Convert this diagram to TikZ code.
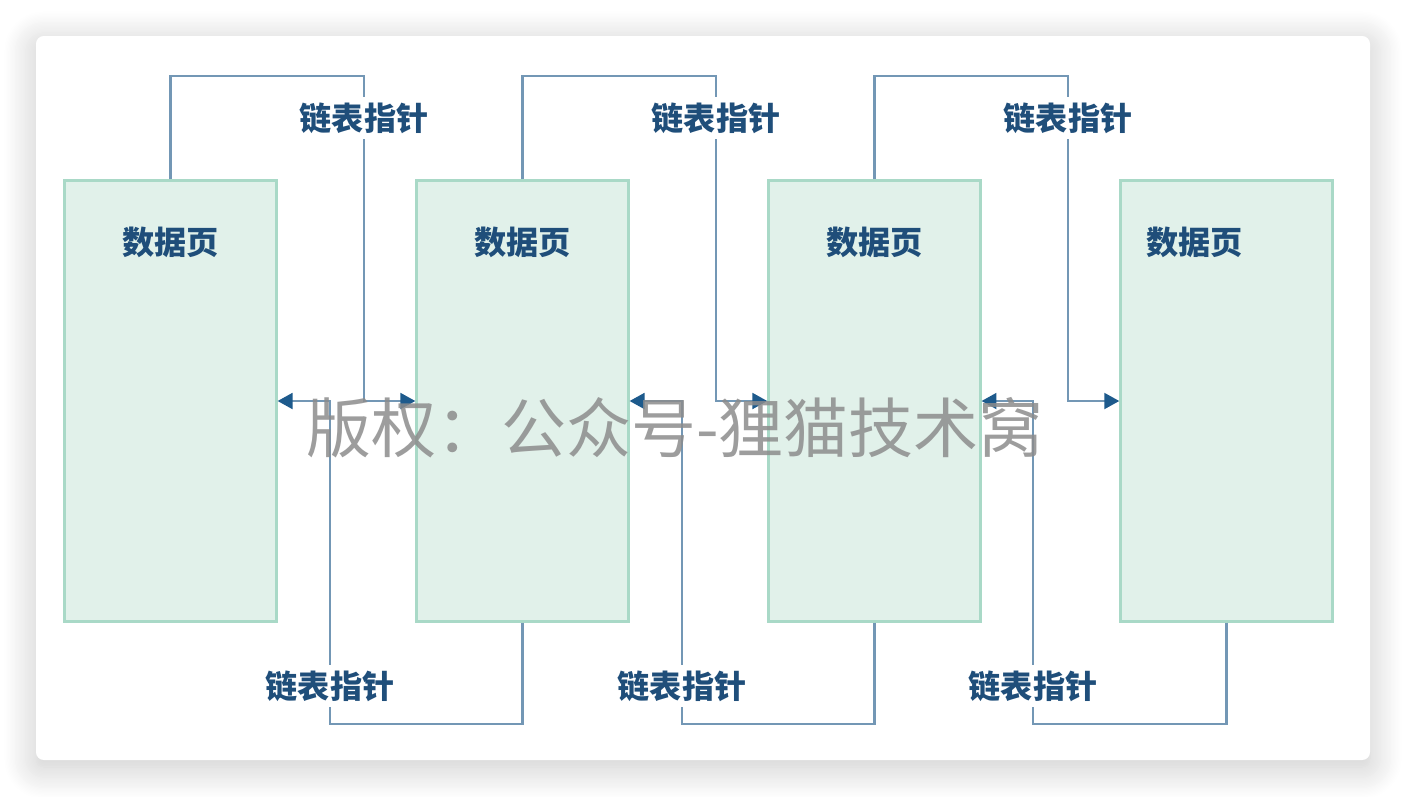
\documentclass[tikz,border=0pt]{standalone}
\usepackage{fontspec}
\newfontfamily\cjk{Noto Sans CJK SC}
\usetikzlibrary{arrows.meta, shadows.blur, positioning}
\definecolor{pagefill}{HTML}{E1F1EA}
\definecolor{pageline}{HTML}{A9D9C7}
\definecolor{linkline}{HTML}{7397B5}
\definecolor{labeltext}{HTML}{1F4E7A}
\definecolor{tipfill}{HTML}{1D5A8C}
\tikzset{
    page/.style={draw=pageline, fill=pagefill, line width=1.3pt, minimum width=4.24cm, minimum height=8.82cm, inner sep=0pt},
    title/.style={font=\cjk\bfseries\fontsize{18.3}{20}\selectfont, text=labeltext, inner sep=1pt},
    ptr/.style={title, fill=white, inner sep=3pt},
    link/.style={draw=linkline, line width=1.4pt},
    tip/.style={-{Triangle[color=tipfill, length=8.5pt, width=9pt]}},
    watermark/.style={font=\cjk\fontsize{37}{40}\selectfont, text=black!45, text opacity=0.85}
}

\begin{document}
\begin{tikzpicture}[x=0.02cm, y=-0.02cm]
        \useasboundingbox (0, 0) rectangle (1406, 796);
        \fill[white, rounded corners=4.5pt, blur shadow={shadow xshift=0pt, shadow yshift=-4pt, shadow blur radius=18pt, shadow blur steps=25, shadow opacity=22}] (36, 36) rectangle (1370, 760);
        % data pages
        \node[page] (box1) at (170.5, 401) {};
        \node[page, right=2.755cm of box1] (box2) {};
        \node[page, right=2.755cm of box2] (box3) {};
        \node[page, right=2.755cm of box3] (box4) {};
        \node[title] (title1) at ([yshift=-1.26cm]box1.north) {数据页};
        \node[title] (title2) at ([yshift=-1.26cm]box2.north) {数据页};
        \node[title] (title3) at ([yshift=-1.26cm]box3.north) {数据页};
        \node[title] (title4) at ([xshift=-0.64cm, yshift=-1.26cm]box4.north) {数据页};
        % forward pointers
        \coordinate (k1) at (364, 76);
        \coordinate (k2) at (716, 76);
        \coordinate (k3) at (1068, 76);
        \node[ptr] (next1) at (364, 118) {链表指针};
        \node[ptr] (next2) at (716, 118) {链表指针};
        \node[ptr] (next3) at (1068, 118) {链表指针};
        \draw[link] (box1.north) |- (k1) -- (next1);
        \draw[link, tip] (next1) |- (box2.west);
        \draw[link] (box2.north) |- (k2) -- (next2);
        \draw[link, tip] (next2) |- (box3.west);
        \draw[link] (box3.north) |- (k3) -- (next3);
        \draw[link, tip] (next3) |- (box4.west);
        % backward pointers
        \coordinate (m1) at (330, 724);
        \coordinate (m2) at (682, 724);
        \coordinate (m3) at (1033, 724);
        \node[ptr] (prev1) at (330, 686) {链表指针};
        \node[ptr] (prev2) at (682, 686) {链表指针};
        \node[ptr] (prev3) at (1033, 686) {链表指针};
        \draw[link] (box2.south) |- (m1) -- (prev1);
        \draw[link, tip] (prev1) |- (box1.east);
        \draw[link] (box3.south) |- (m2) -- (prev2);
        \draw[link, tip] (prev2) |- (box2.east);
        \draw[link] (box4.south) |- (m3) -- (prev3);
        \draw[link, tip] (prev3) |- (box3.east);
        \node[watermark] (wm) at (675, 428) {版权：公众号-狸猫技术窝};
    \end{tikzpicture}
\end{document}
